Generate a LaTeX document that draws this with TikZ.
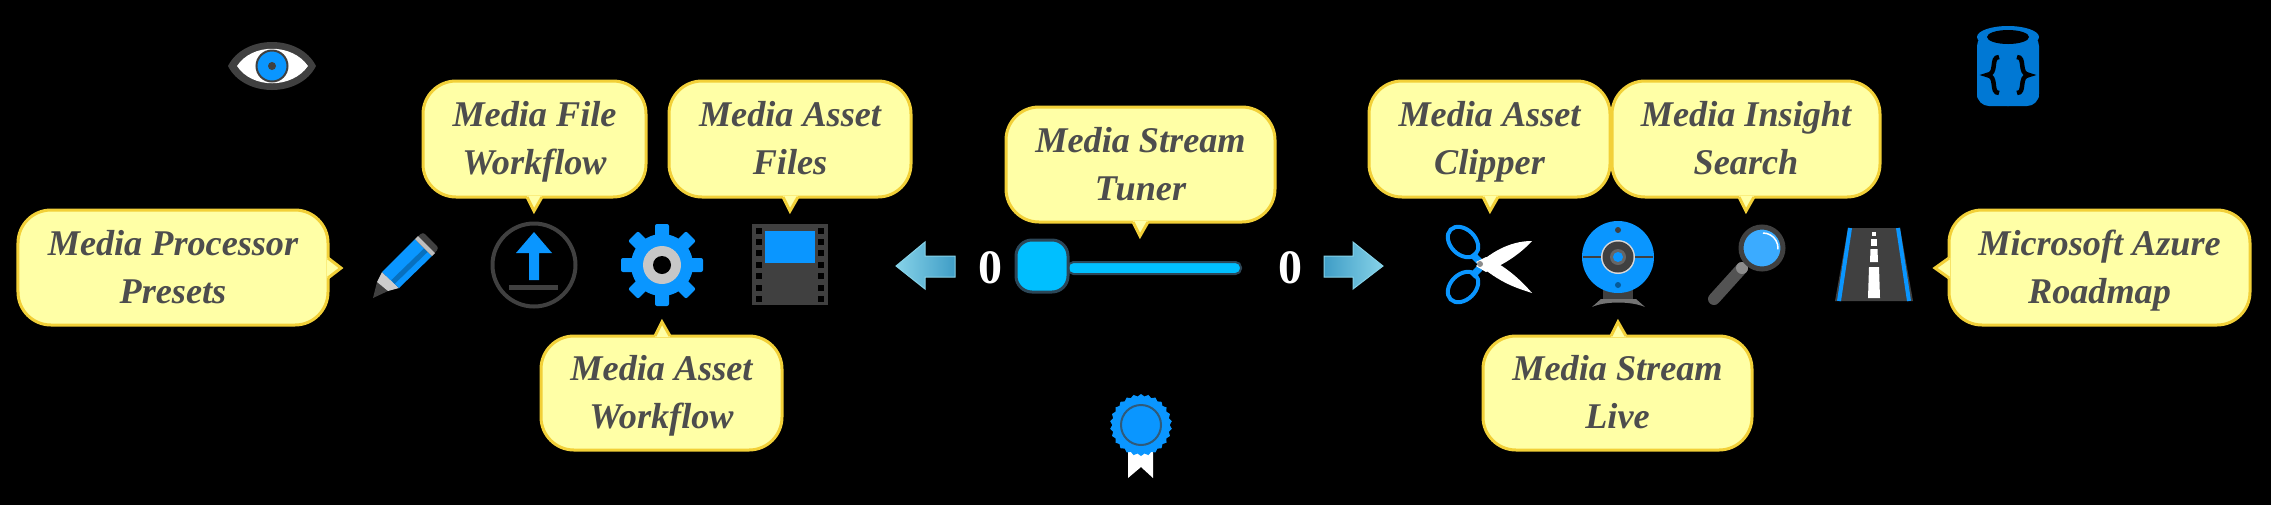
\documentclass[tikz,border=0pt]{standalone}
\usepackage{fontspec}
\setmainfont{Liberation Serif}
\usetikzlibrary{shapes.geometric}
\definecolor{noteFill}{HTML}{FFFFA6}
\definecolor{noteEdge}{HTML}{F2D038}
\definecolor{noteText}{HTML}{4D4D4D}
\definecolor{iconBlue}{HTML}{0A96FF}
\definecolor{iconGray}{HTML}{404040}
\definecolor{knobBlue}{HTML}{00BFFF}
\definecolor{knobEdge}{HTML}{2C4657}
\definecolor{jsonBlue}{HTML}{0078D4}
\definecolor{navLight}{HTML}{86D2E8}
\definecolor{navDark}{HTML}{3F9DC6}
\tikzset{
  note/.style={draw=noteEdge, fill=noteFill, line width=0.03cm, rounded corners=0.33cm,
    inner sep=0pt, align=center, text=noteText, text height=24pt, text depth=3.7pt,
    font=\fontsize{10.3}{13.66}\selectfont\bfseries\itshape},
  notetail/.style={fill=noteFill},
  noteline/.style={draw=noteEdge, line width=0.03cm, line join=miter},
  count/.style={text=white, font=\fontsize{13.66}{14}\selectfont\bfseries},
  navarrow/.style={draw=navLight, line width=0.01cm},
}
\begin{document}
\begin{tikzpicture}
  \useasboundingbox (0,0) rectangle (22.71,5.04);
  \fill[black] (-0.1,-0.1) rectangle (22.81,5.14);
  % notes
  \node[note, minimum width=3.10cm, minimum height=1.15cm] (presets) at (1.73,2.365) {Media Processor\\Presets};
  \node[note, minimum width=2.23cm, minimum height=1.16cm] (fileflow) at (5.345,3.65) {Media File\\Workflow};
  \node[note, minimum width=2.41cm, minimum height=1.14cm] (assetflow) at (6.615,1.110) {Media Asset\\Workflow};
  \node[note, minimum width=2.42cm, minimum height=1.16cm] (assetfiles) at (7.90,3.65) {Media Asset\\Files};
  \node[note, minimum width=2.69cm, minimum height=1.15cm] (tuner) at (11.405,3.395) {Media Stream\\Tuner};
  \node[note, minimum width=2.41cm, minimum height=1.16cm] (clipper) at (14.895,3.65) {Media Asset\\Clipper};
  \node[note, minimum width=2.68cm, minimum height=1.16cm] (insight) at (17.46,3.65) {Media Insight\\Search};
  \node[note, minimum width=2.69cm, minimum height=1.14cm] (live) at (16.175,1.110) {Media Stream\\Live};
  \node[note, minimum width=3.01cm, minimum height=1.15cm] (roadmap) at (20.995,2.365) {Microsoft Azure\\Roadmap};
  % note tails
  \coordinate (presetstip) at (3.41,2.36);
  \coordinate (fileflowtip) at (5.34,2.93);
  \coordinate (assetflowtip) at (6.62,1.82);
  \coordinate (assetfilestip) at (7.90,2.93);
  \coordinate (tunertip) at (11.40,2.68);
  \coordinate (clippertip) at (14.90,2.93);
  \coordinate (insighttip) at (17.46,2.93);
  \coordinate (livetip) at (16.18,1.82);
  \coordinate (roadmaptip) at (19.35,2.36);
  \fill[notetail] (3.27,2.46) -- (presetstip) -- (3.27,2.26) -- cycle;
  \draw[noteline] (3.28,2.46) -- (presetstip) -- (3.28,2.26);
  \fill[notetail] (5.27,3.08) -- (fileflowtip) -- (5.42,3.08) -- cycle;
  \draw[noteline] (5.27,3.07) -- (fileflowtip) -- (5.42,3.07);
  \fill[notetail] (6.55,1.67) -- (assetflowtip) -- (6.70,1.67) -- cycle;
  \draw[noteline] (6.55,1.68) -- (assetflowtip) -- (6.70,1.68);
  \fill[notetail] (7.83,3.08) -- (assetfilestip) -- (7.98,3.08) -- cycle;
  \draw[noteline] (7.83,3.07) -- (assetfilestip) -- (7.98,3.07);
  \fill[notetail] (11.33,2.83) -- (tunertip) -- (11.48,2.83) -- cycle;
  \draw[noteline] (11.33,2.82) -- (tunertip) -- (11.48,2.82);
  \fill[notetail] (14.83,3.08) -- (clippertip) -- (14.98,3.08) -- cycle;
  \draw[noteline] (14.83,3.07) -- (clippertip) -- (14.98,3.07);
  \fill[notetail] (17.39,3.08) -- (insighttip) -- (17.54,3.08) -- cycle;
  \draw[noteline] (17.39,3.07) -- (insighttip) -- (17.54,3.07);
  \fill[notetail] (16.11,1.67) -- (livetip) -- (16.26,1.67) -- cycle;
  \draw[noteline] (16.11,1.68) -- (livetip) -- (16.26,1.68);
  \fill[notetail] (19.50,2.46) -- (roadmaptip) -- (19.50,2.26) -- cycle;
  \draw[noteline] (19.49,2.46) -- (roadmaptip) -- (19.49,2.26);
  % slider
  \draw[knobEdge, fill=knobBlue, line width=0.02cm, rounded corners=0.055cm] (10.68,2.30) rectangle (12.41,2.42);
  \draw[knobEdge, fill=knobBlue, line width=0.03cm, rounded corners=0.16cm] (10.16,2.12) rectangle (10.68,2.64);
  \node[count] (lowcount) at (9.90,2.36) {0};
  \node[count] (highcount) at (12.90,2.36) {0};
  % arrows
  \draw[navarrow, left color=navLight, right color=navDark] (8.96,2.38) -- (9.25,2.62) -- (9.25,2.48) -- (9.55,2.48) -- (9.55,2.27) -- (9.25,2.27) -- (9.25,2.15) -- cycle;
  \draw[navarrow, left color=navDark, right color=navLight] (13.83,2.38) -- (13.53,2.62) -- (13.53,2.48) -- (13.24,2.48) -- (13.24,2.27) -- (13.53,2.27) -- (13.53,2.15) -- cycle;
  % eye
  \fill[iconGray] (2.28,4.38) .. controls (2.44,4.70) and (3.00,4.70) .. (3.16,4.38) .. controls (3.00,4.06) and (2.44,4.06) .. cycle;
  \fill[white] (2.37,4.38) .. controls (2.52,4.61) and (2.92,4.61) .. (3.08,4.38) .. controls (2.92,4.15) and (2.52,4.15) .. cycle;
  \draw[iconGray, fill=iconBlue, line width=0.02cm] (2.72,4.38) circle (0.155);
  \fill[iconGray] (2.72,4.38) circle (0.04);
  % pencil
  \fill[iconGray] (3.73,2.06) -- (3.77,2.22) -- (3.88,2.13) -- cycle;
  \fill[black!20] (3.77,2.22) -- (3.82,2.32) -- (3.99,2.16) -- (3.88,2.13) -- cycle;
  \fill[iconBlue] (3.82,2.32) -- (4.15,2.65) -- (4.32,2.48) -- (3.99,2.16) -- cycle;
  \draw[iconBlue!75!black, line width=0.05cm] (3.93,2.22) -- (4.26,2.54);
  \fill[iconGray, rounded corners=0.03cm] (4.15,2.65) -- (4.23,2.72) -- (4.39,2.56) -- (4.32,2.48) -- cycle;
  \fill[black!25] (4.15,2.65) -- (4.18,2.68) -- (4.35,2.51) -- (4.32,2.48) -- cycle;
  % upload
  \draw[iconGray, line width=0.04cm] (5.34,2.39) circle (0.415);
  \fill[iconBlue] (5.34,2.72) -- (5.52,2.51) -- (5.39,2.51) -- (5.39,2.24) -- (5.29,2.24) -- (5.29,2.51) -- (5.16,2.51) -- cycle;
  \draw[iconGray, line width=0.05cm] (5.09,2.17) -- (5.58,2.17);
  % gear
  \fill[iconBlue] (6.62,2.39) circle (0.31);
  \foreach \a in {0,45,...,315}
    \fill[iconBlue, rotate around={\a:(6.62,2.39)}, rounded corners=0.02cm] (6.55,2.39) rectangle (6.69,2.80);
  \fill[black!22] (6.62,2.39) circle (0.19);
  \fill[black] (6.62,2.39) circle (0.09);
  % film
  \fill[iconGray] (7.52,1.99) rectangle (8.28,2.80);
  \fill[iconBlue] (7.65,2.41) rectangle (8.15,2.73);
  \foreach \y in {2.02,2.13,2.25,2.36,2.48,2.59,2.70} {
    \fill[black] (7.56,\y) rectangle (7.62,\y+0.06);
    \fill[black] (8.18,\y) rectangle (8.24,\y+0.06);
  }
  % scissors
  \draw[iconBlue, line width=0.04cm, rotate around={-45:(14.63,2.62)}] (14.63,2.62) ellipse (0.175 and 0.125);
  \draw[iconBlue, line width=0.04cm, rotate around={45:(14.63,2.17)}] (14.63,2.17) ellipse (0.175 and 0.125);
  \draw[iconBlue, line width=0.07cm] (14.72,2.50) -- (14.80,2.42);
  \draw[iconBlue, line width=0.07cm] (14.72,2.28) -- (14.80,2.36);
  \fill[white] (14.76,2.38) .. controls (15.00,2.60) and (15.20,2.63) .. (15.32,2.63) .. controls (15.20,2.50) and (15.05,2.40) .. (14.86,2.32) -- cycle;
  \fill[white] (14.76,2.42) .. controls (15.00,2.20) and (15.20,2.15) .. (15.32,2.11) .. controls (15.20,2.25) and (15.05,2.38) .. (14.86,2.47) -- cycle;
  \fill[black!45] (14.80,2.40) circle (0.03);
  % webcam
  \fill[iconGray] (16.03,2.03) rectangle (16.33,2.14);
  \fill[black!55] (15.92,1.97) .. controls (16.05,2.03) and (16.31,2.03) .. (16.45,1.97) -- (16.36,2.05) -- (16.01,2.05) -- cycle;
  \fill[iconBlue] (16.18,2.47) circle (0.36);
  \draw[iconGray, line width=0.02cm] (15.83,2.47) -- (16.53,2.47);
  \fill[iconGray] (16.18,2.74) circle (0.03);
  \fill[iconBlue!60!black] (16.18,2.19) circle (0.03);
  \fill[black!15] (16.18,2.47) circle (0.17);
  \fill[iconGray] (16.18,2.47) circle (0.155);
  \fill[black!60] (16.18,2.47) circle (0.08);
  \fill[iconBlue] (16.18,2.47) circle (0.05);
  % magnifier
  \draw[iconGray!90!white, line width=0.12cm, line cap=round] (17.42,2.36) -- (17.14,2.05);
  \fill[black!45] (17.42,2.36) circle (0.06);
  \draw[iconGray, fill=iconBlue!80!white, line width=0.05cm] (17.62,2.56) circle (0.21);
  \draw[white, line width=0.015cm] (17.63,2.71) arc (90:-5:0.15);
  % road
  \fill[iconGray] (18.48,2.76) -- (19.00,2.76) -- (19.13,2.03) -- (18.35,2.03) -- cycle;
  \draw[iconBlue, line width=0.04cm] (18.50,2.76) -- (18.39,2.03);
  \draw[iconBlue, line width=0.04cm] (18.98,2.76) -- (19.09,2.03);
  \fill[white] (18.68,2.06) -- (18.80,2.06) -- (18.79,2.37) -- (18.69,2.37) -- cycle;
  \fill[white] (18.70,2.42) -- (18.78,2.42) -- (18.775,2.55) -- (18.705,2.55) -- cycle;
  \fill[white] (18.71,2.58) rectangle (18.77,2.65);
  \fill[white] (18.72,2.68) rectangle (18.76,2.72);
  % json cylinder
  \fill[jsonBlue, rounded corners=0.12cm] (19.77,3.98) rectangle (20.39,4.70);
  \fill[jsonBlue] (20.08,4.67) ellipse (0.31 and 0.11);
  \fill[jsonBlue] (20.08,4.08) ellipse (0.31 and 0.10);
  \fill[black] (20.08,4.67) ellipse (0.21 and 0.07);
  \draw[black, line width=0.045cm] (19.99,4.47) .. controls (19.90,4.47) and (19.98,4.30) .. (19.87,4.29) .. controls (19.98,4.28) and (19.90,4.11) .. (19.99,4.11);
  \draw[black, line width=0.045cm] (20.17,4.47) .. controls (20.26,4.47) and (20.18,4.30) .. (20.29,4.29) .. controls (20.18,4.28) and (20.26,4.11) .. (20.17,4.11);
  % badge
  \fill[white] (11.28,0.79) -- (11.28,0.26) -- (11.41,0.37) -- (11.53,0.26) -- (11.53,0.79) -- cycle;
  \node[star, star points=26, star point ratio=1.08, fill=iconBlue, minimum size=0.62cm, inner sep=0pt] (badge) at (11.41,0.79) {};
  \draw[iconGray!70!iconBlue, line width=0.02cm] (badge.center) circle (0.20);
\end{tikzpicture}
\end{document}
